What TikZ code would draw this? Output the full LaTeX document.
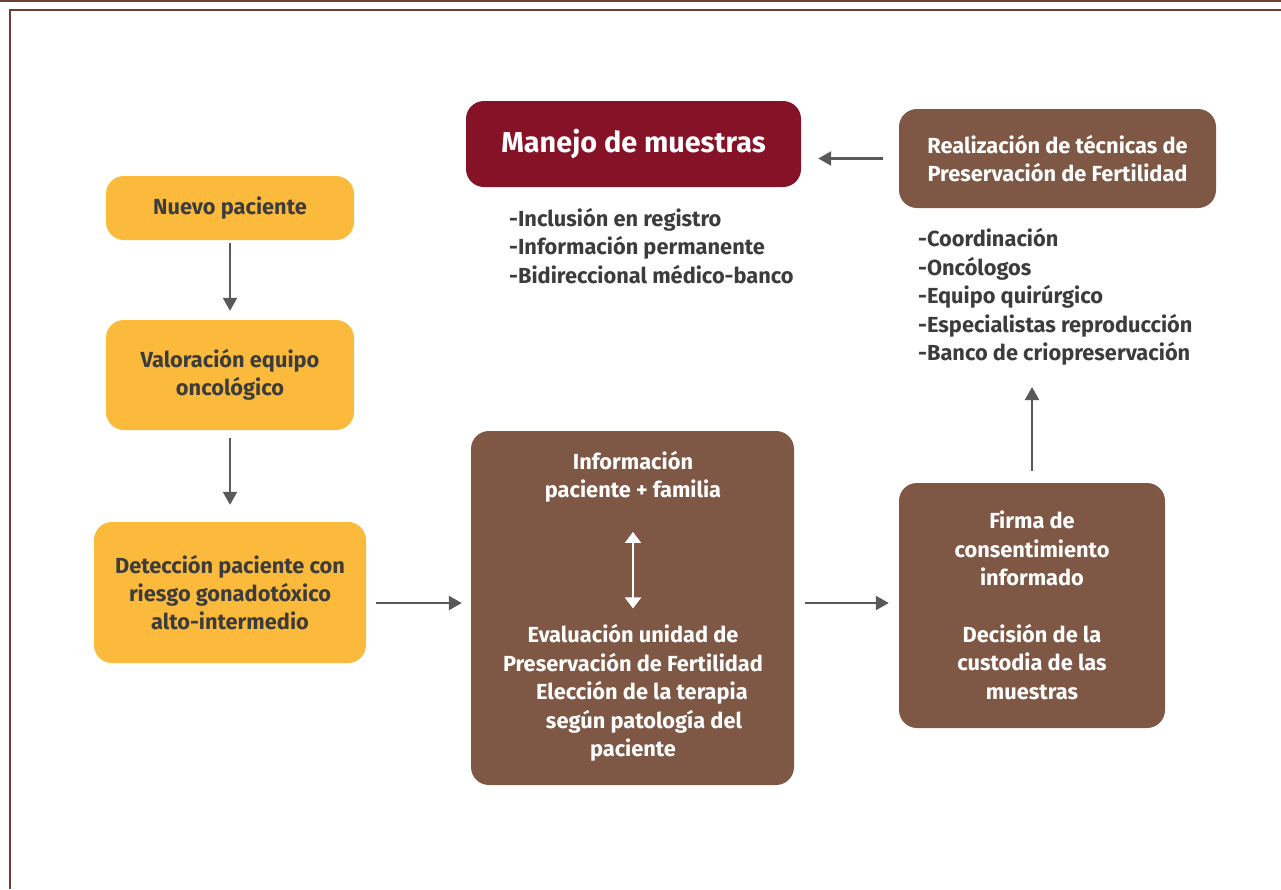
\documentclass[tikz,border=0pt]{standalone}
\usepackage{fontspec}
\setmainfont{Fira Sans}
\usetikzlibrary{arrows.meta}
\definecolor{ybox}{HTML}{FBBA3B}
\definecolor{bbox}{HTML}{7F5845}
\definecolor{mbox}{HTML}{861228}
\definecolor{txt}{HTML}{3C3C3C}
\definecolor{arr}{HTML}{58595B}
\definecolor{frame}{HTML}{6E3F30}
\tikzset{
  base/.style={rounded corners=18pt, align=center, inner sep=0pt, font=\bfseries\fontsize{21.8}{28.4}\selectfont},
  yboxs/.style={base, fill=ybox, text=txt},
  bboxs/.style={base, fill=bbox, text=white},
  listtxt/.style={align=left, inner sep=0pt, text=txt, font=\bfseries\fontsize{21.8}{28.4}\selectfont},
  intxt/.style={align=center, inner sep=0pt, text=white, font=\bfseries\fontsize{21.8}{28.4}\selectfont},
  conn/.style={draw=arr, line width=2.2pt, -{Triangle[length=13pt,width=14pt]}},
  wconn/.style={draw=white, line width=2pt, {Triangle[length=11pt,width=16pt]}-{Triangle[length=11pt,width=16pt]}}
}
\begin{document}
\begin{tikzpicture}[x=1pt,y=-1pt]
\useasboundingbox (0,0) rectangle (1281,889);
% frame
\draw[frame, line width=1.8pt] (0,1) -- (1281,1);
\draw[frame, line width=2pt] (9.5,889) -- (9.5,9.5) -- (1281,9.5);
% left column
\node[yboxs, minimum width=248pt, minimum height=64pt] (n1) at (230,208) {Nuevo paciente};
\node[yboxs, minimum width=248pt, minimum height=110pt] (n2) at (230,375) {Valoración equipo\\oncológico};
\node[yboxs, minimum width=272pt, minimum height=141pt] (n3) at (230,592.5) {Detección paciente con\\riesgo gonadotóxico\\alto-intermedio};
% middle big box
\node[bboxs, minimum width=323pt, minimum height=354pt] (big) at (632.5,608) {};
\node[intxt] (info) at (633,477) {Información\\paciente + familia};
\node[intxt] (eval) at (633,693) {Evaluación unidad de\\Preservación de Fertilidad\\\hspace*{18pt}Elección de la terapia\\\hspace*{22pt}según patología del\\paciente};
% right box
\node[bboxs, minimum width=266pt, minimum height=245pt] (cons) at (1032,605.5) {Firma de\\consentimiento\\informado\\[28.4pt]Decisión de la\\custodia de las\\muestras};
% top right
\node[bboxs, minimum width=317pt, minimum height=99pt] (tr) at (1057.5,158.5) {Realización de técnicas de\\Preservación de Fertilidad};
\node[listtxt, anchor=west] (l2) at (918,297) {-Coordinación\\-Oncólogos\\-Equipo quirúrgico\\-Especialistas reproducción\\-Banco de criopreservación};
\coordinate (l2end) at (1032,387);
% manejo
\node[base, fill=mbox, text=white, font=\bfseries\fontsize{28.8}{34}\selectfont, minimum width=335pt, minimum height=86pt] (man) at (633.5,144) {Manejo de muestras};
\node[listtxt, anchor=west] (l1) at (509,246) {-Inclusión en registro\\-Información permanente\\-Bidireccional médico-banco};
% connector rows
\coordinate (rowA) at (0,603);
% connectors
\draw[conn, shorten <=3pt, shorten >=9pt] (n1.south) -- (n2.north);
\draw[conn, shorten <=8pt, shorten >=17pt] (n2.south) -- (n3.north);
\draw[conn, shorten <=10pt, shorten >=9pt] (n3.east |- rowA) -- (big.west |- rowA);
\draw[conn, shorten <=11pt, shorten >=10pt] (big.east |- rowA) -- (cons.west |- rowA);
\draw[conn, shorten <=12pt] (cons.north) -- (l2end);
\draw[conn, shorten <=16pt, shorten >=17pt] (tr.west) -- (man.east |- tr.west);
\draw[wconn] ([yshift=-29pt]info.south) -- ([yshift=16pt]eval.north);
\end{tikzpicture}
\end{document}
